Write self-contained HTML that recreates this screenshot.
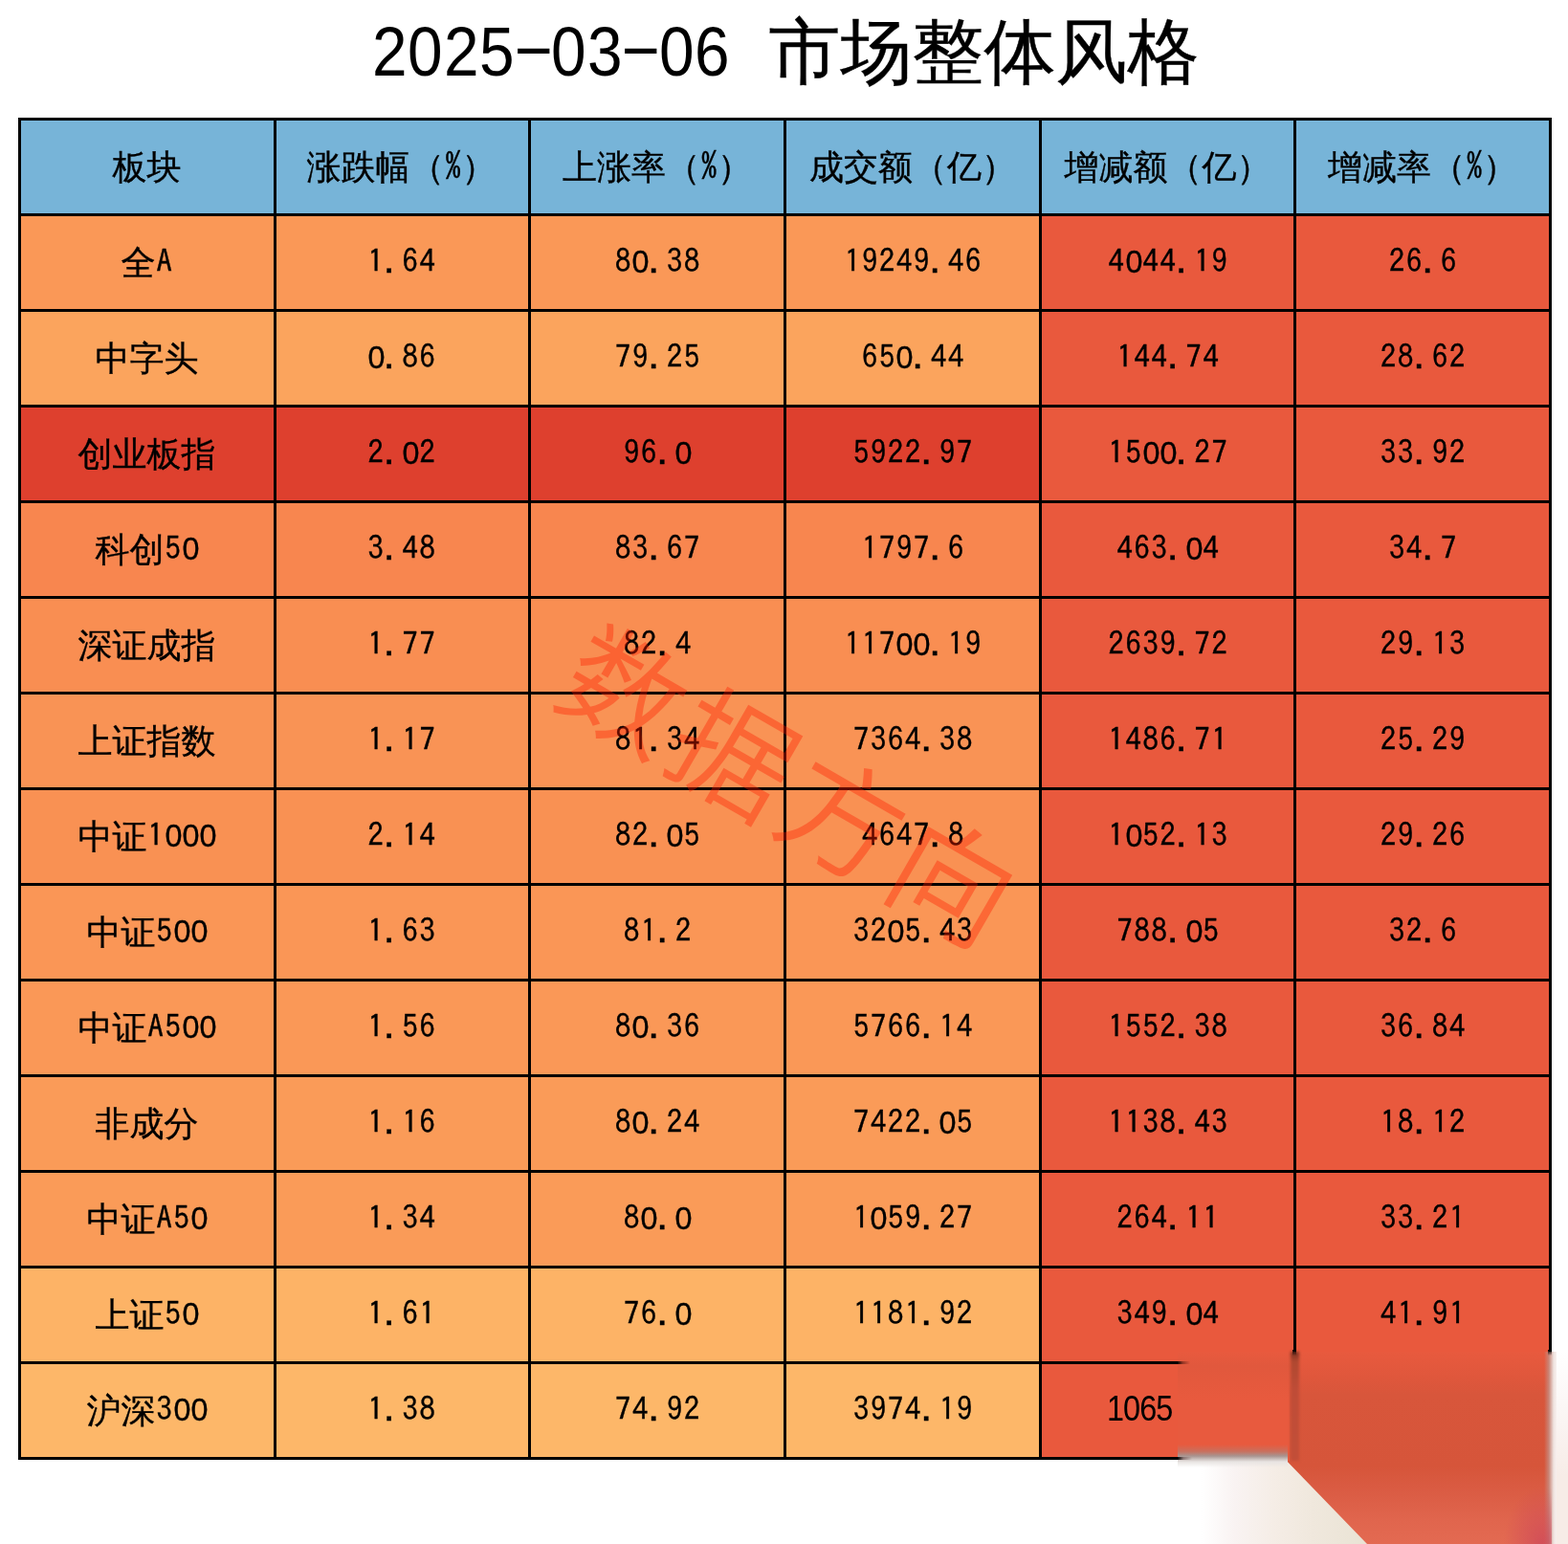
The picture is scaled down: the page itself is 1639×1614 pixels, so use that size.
<!DOCTYPE html>
<html lang="zh-CN"><head><meta charset="utf-8"><title>2025-03-06 市场整体风格</title>
<style>
html,body{margin:0;padding:0;background:#fff;}
body{width:1639px;height:1614px;overflow:hidden;position:relative;color:#000;}
.k{font-family:"WenQuanYi Zen Hei","Noto Sans CJK SC",sans-serif;}
b{font-weight:normal;display:inline-block;text-align:center;font-family:"IPAGothic","Liberation Sans",sans-serif;}
.title{position:absolute;top:3px;height:100px;line-height:100px;white-space:nowrap;font-size:75px;}
.title b{width:37.5px;font-family:"Liberation Sans",Arial,sans-serif;font-size:73px;vertical-align:top;position:relative;top:0.5px;transform:scaleX(0.9);}
.title b.h{transform:translateX(2px) scale(1.87,0.94);top:-5.5px;}
.title .k{position:relative;top:2px;margin-left:4.5px;-webkit-text-stroke:0.4px #000;}
.bg{position:absolute;height:103px;}
.t{position:absolute;height:100px;line-height:100px;white-space:nowrap;font-size:36px;}
.t .k{position:relative;top:1.5px;}
.t b{width:18px;font-size:32.5px;vertical-align:top;position:relative;top:0px;}
.t b.p{text-align:left;text-indent:0px;}
.t b.q{font-family:"IPAGothic","Liberation Mono",monospace;font-size:32.5px;top:0px;}
.t b.z{font-family:"Liberation Sans",Arial,sans-serif;font-size:34px;transform:scaleX(0.95);top:0px;}
.t{-webkit-text-stroke:0.35px #000;}
.t .r{display:inline-block;transform-origin:0 50%;transform:scaleX(0.9);font-family:"Liberation Sans",Arial,sans-serif;font-size:36px;letter-spacing:-1px;position:relative;top:0px;-webkit-text-stroke:0;}
.g{position:absolute;background:#000;}
.wm{position:absolute;left:828px;top:815px;width:0;height:0;}
.wm div{position:absolute;left:-400px;top:-100px;width:800px;height:200px;line-height:200px;text-align:center;white-space:nowrap;
 font-family:"Noto Sans CJK SC","WenQuanYi Zen Hei",sans-serif;font-weight:350;font-size:126px;letter-spacing:6px;text-indent:6px;
 color:rgba(255,30,0,0.38);transform:rotate(30deg);}
</style></head><body>
<div class="title" style="left:386.5px"><b>2</b><b>0</b><b>2</b><b>5</b><b class="h">-</b><b>0</b><b>3</b><b class="h">-</b><b>0</b><b>6</b><b>&nbsp;</b><span class="k">市场整体风格</span></div>
<div class="bg" style="left:19px;top:123px;width:270px;background:#77B4D8"></div>
<div class="bg" style="left:286px;top:123px;width:269px;background:#77B4D8"></div>
<div class="bg" style="left:552px;top:123px;width:270px;background:#77B4D8"></div>
<div class="bg" style="left:819px;top:123px;width:270px;background:#77B4D8"></div>
<div class="bg" style="left:1086px;top:123px;width:269px;background:#77B4D8"></div>
<div class="bg" style="left:1352px;top:123px;width:270px;background:#77B4D8"></div>
<div class="bg" style="left:19px;top:223px;width:270px;background:#FA9857"></div>
<div class="bg" style="left:286px;top:223px;width:269px;background:#FA9857"></div>
<div class="bg" style="left:552px;top:223px;width:270px;background:#FA9857"></div>
<div class="bg" style="left:819px;top:223px;width:270px;background:#FA9857"></div>
<div class="bg" style="left:1086px;top:223px;width:269px;background:#E9593D"></div>
<div class="bg" style="left:1352px;top:223px;width:270px;background:#E9593D"></div>
<div class="bg" style="left:19px;top:323px;width:270px;background:#FBA45D"></div>
<div class="bg" style="left:286px;top:323px;width:269px;background:#FBA45D"></div>
<div class="bg" style="left:552px;top:323px;width:270px;background:#FBA45D"></div>
<div class="bg" style="left:819px;top:323px;width:270px;background:#FBA45D"></div>
<div class="bg" style="left:1086px;top:323px;width:269px;background:#E9593D"></div>
<div class="bg" style="left:1352px;top:323px;width:270px;background:#E9593D"></div>
<div class="bg" style="left:19px;top:423px;width:270px;background:#DE402E"></div>
<div class="bg" style="left:286px;top:423px;width:269px;background:#DE402E"></div>
<div class="bg" style="left:552px;top:423px;width:270px;background:#DE402E"></div>
<div class="bg" style="left:819px;top:423px;width:270px;background:#DE402E"></div>
<div class="bg" style="left:1086px;top:423px;width:269px;background:#E9593D"></div>
<div class="bg" style="left:1352px;top:423px;width:270px;background:#E9593D"></div>
<div class="bg" style="left:19px;top:523px;width:270px;background:#F8864F"></div>
<div class="bg" style="left:286px;top:523px;width:269px;background:#F8864F"></div>
<div class="bg" style="left:552px;top:523px;width:270px;background:#F8864F"></div>
<div class="bg" style="left:819px;top:523px;width:270px;background:#F8864F"></div>
<div class="bg" style="left:1086px;top:523px;width:269px;background:#E9593D"></div>
<div class="bg" style="left:1352px;top:523px;width:270px;background:#E9593D"></div>
<div class="bg" style="left:19px;top:623px;width:270px;background:#F98E52"></div>
<div class="bg" style="left:286px;top:623px;width:269px;background:#F98E52"></div>
<div class="bg" style="left:552px;top:623px;width:270px;background:#F98E52"></div>
<div class="bg" style="left:819px;top:623px;width:270px;background:#F98E52"></div>
<div class="bg" style="left:1086px;top:623px;width:269px;background:#E9593D"></div>
<div class="bg" style="left:1352px;top:623px;width:270px;background:#E9593D"></div>
<div class="bg" style="left:19px;top:723px;width:270px;background:#F99355"></div>
<div class="bg" style="left:286px;top:723px;width:269px;background:#F99355"></div>
<div class="bg" style="left:552px;top:723px;width:270px;background:#F99355"></div>
<div class="bg" style="left:819px;top:723px;width:270px;background:#F99355"></div>
<div class="bg" style="left:1086px;top:723px;width:269px;background:#E9593D"></div>
<div class="bg" style="left:1352px;top:723px;width:270px;background:#E9593D"></div>
<div class="bg" style="left:19px;top:823px;width:270px;background:#F99153"></div>
<div class="bg" style="left:286px;top:823px;width:269px;background:#F99153"></div>
<div class="bg" style="left:552px;top:823px;width:270px;background:#F99153"></div>
<div class="bg" style="left:819px;top:823px;width:270px;background:#F99153"></div>
<div class="bg" style="left:1086px;top:823px;width:269px;background:#E9593D"></div>
<div class="bg" style="left:1352px;top:823px;width:270px;background:#E9593D"></div>
<div class="bg" style="left:19px;top:923px;width:270px;background:#FA9656"></div>
<div class="bg" style="left:286px;top:923px;width:269px;background:#FA9656"></div>
<div class="bg" style="left:552px;top:923px;width:270px;background:#FA9656"></div>
<div class="bg" style="left:819px;top:923px;width:270px;background:#FA9656"></div>
<div class="bg" style="left:1086px;top:923px;width:269px;background:#E9593D"></div>
<div class="bg" style="left:1352px;top:923px;width:270px;background:#E9593D"></div>
<div class="bg" style="left:19px;top:1023px;width:270px;background:#FA9857"></div>
<div class="bg" style="left:286px;top:1023px;width:269px;background:#FA9857"></div>
<div class="bg" style="left:552px;top:1023px;width:270px;background:#FA9857"></div>
<div class="bg" style="left:819px;top:1023px;width:270px;background:#FA9857"></div>
<div class="bg" style="left:1086px;top:1023px;width:269px;background:#E9593D"></div>
<div class="bg" style="left:1352px;top:1023px;width:270px;background:#E9593D"></div>
<div class="bg" style="left:19px;top:1123px;width:270px;background:#FA9B58"></div>
<div class="bg" style="left:286px;top:1123px;width:269px;background:#FA9B58"></div>
<div class="bg" style="left:552px;top:1123px;width:270px;background:#FA9B58"></div>
<div class="bg" style="left:819px;top:1123px;width:270px;background:#FA9B58"></div>
<div class="bg" style="left:1086px;top:1123px;width:269px;background:#E9593D"></div>
<div class="bg" style="left:1352px;top:1123px;width:270px;background:#E9593D"></div>
<div class="bg" style="left:19px;top:1223px;width:270px;background:#FA9B58"></div>
<div class="bg" style="left:286px;top:1223px;width:269px;background:#FA9B58"></div>
<div class="bg" style="left:552px;top:1223px;width:270px;background:#FA9B58"></div>
<div class="bg" style="left:819px;top:1223px;width:270px;background:#FA9B58"></div>
<div class="bg" style="left:1086px;top:1223px;width:269px;background:#E9593D"></div>
<div class="bg" style="left:1352px;top:1223px;width:270px;background:#E9593D"></div>
<div class="bg" style="left:19px;top:1323px;width:270px;background:#FDB366"></div>
<div class="bg" style="left:286px;top:1323px;width:269px;background:#FDB366"></div>
<div class="bg" style="left:552px;top:1323px;width:270px;background:#FDB366"></div>
<div class="bg" style="left:819px;top:1323px;width:270px;background:#FDB366"></div>
<div class="bg" style="left:1086px;top:1323px;width:269px;background:#E9593D"></div>
<div class="bg" style="left:1352px;top:1323px;width:270px;background:#E9593D"></div>
<div class="bg" style="left:19px;top:1423px;width:270px;background:#FDB769"></div>
<div class="bg" style="left:286px;top:1423px;width:269px;background:#FDB769"></div>
<div class="bg" style="left:552px;top:1423px;width:270px;background:#FDB769"></div>
<div class="bg" style="left:819px;top:1423px;width:270px;background:#FDB769"></div>
<div class="bg" style="left:1086px;top:1423px;width:269px;background:#E9593D"></div>
<div class="bg" style="left:1352px;top:1423px;width:270px;background:#E9593D"></div>
<div class="t" style="left:117.5px;top:123px"><span class="k">板块</span></div>
<div class="t" style="left:320.5px;top:123px"><span class="k">涨跌幅（</span><b class="q">%</b><span class="k">）</span></div>
<div class="t" style="left:588.0px;top:123px"><span class="k">上涨率（</span><b class="q">%</b><span class="k">）</span></div>
<div class="t" style="left:846.0px;top:123px"><span class="k">成交额（亿）</span></div>
<div class="t" style="left:1112.5px;top:123px"><span class="k">增减额（亿）</span></div>
<div class="t" style="left:1388.0px;top:123px"><span class="k">增减率（</span><b class="q">%</b><span class="k">）</span></div>
<div class="t" style="left:126.5px;top:223px"><span class="k">全</span><b>A</b></div>
<div class="t" style="left:383.5px;top:223px"><b>1</b><b class="p">.</b><b>6</b><b>4</b></div>
<div class="t" style="left:642.0px;top:223px"><b>8</b><b class="z">0</b><b class="p">.</b><b>3</b><b>8</b></div>
<div class="t" style="left:882.0px;top:223px"><b>1</b><b>9</b><b>2</b><b>4</b><b>9</b><b class="p">.</b><b>4</b><b>6</b></div>
<div class="t" style="left:1157.5px;top:223px"><b>4</b><b class="z">0</b><b>4</b><b>4</b><b class="p">.</b><b>1</b><b>9</b></div>
<div class="t" style="left:1451.0px;top:223px"><b>2</b><b>6</b><b class="p">.</b><b>6</b></div>
<div class="t" style="left:99.5px;top:323px"><span class="k">中字头</span></div>
<div class="t" style="left:383.5px;top:323px"><b class="z">0</b><b class="p">.</b><b>8</b><b>6</b></div>
<div class="t" style="left:642.0px;top:323px"><b>7</b><b>9</b><b class="p">.</b><b>2</b><b>5</b></div>
<div class="t" style="left:900.0px;top:323px"><b>6</b><b>5</b><b class="z">0</b><b class="p">.</b><b>4</b><b>4</b></div>
<div class="t" style="left:1166.5px;top:323px"><b>1</b><b>4</b><b>4</b><b class="p">.</b><b>7</b><b>4</b></div>
<div class="t" style="left:1442.0px;top:323px"><b>2</b><b>8</b><b class="p">.</b><b>6</b><b>2</b></div>
<div class="t" style="left:81.5px;top:423px"><span class="k">创业板指</span></div>
<div class="t" style="left:383.5px;top:423px"><b>2</b><b class="p">.</b><b class="z">0</b><b>2</b></div>
<div class="t" style="left:651.0px;top:423px"><b>9</b><b>6</b><b class="p">.</b><b class="z">0</b></div>
<div class="t" style="left:891.0px;top:423px"><b>5</b><b>9</b><b>2</b><b>2</b><b class="p">.</b><b>9</b><b>7</b></div>
<div class="t" style="left:1157.5px;top:423px"><b>1</b><b>5</b><b class="z">0</b><b class="z">0</b><b class="p">.</b><b>2</b><b>7</b></div>
<div class="t" style="left:1442.0px;top:423px"><b>3</b><b>3</b><b class="p">.</b><b>9</b><b>2</b></div>
<div class="t" style="left:99.5px;top:523px"><span class="k">科创</span><b>5</b><b class="z">0</b></div>
<div class="t" style="left:383.5px;top:523px"><b>3</b><b class="p">.</b><b>4</b><b>8</b></div>
<div class="t" style="left:642.0px;top:523px"><b>8</b><b>3</b><b class="p">.</b><b>6</b><b>7</b></div>
<div class="t" style="left:900.0px;top:523px"><b>1</b><b>7</b><b>9</b><b>7</b><b class="p">.</b><b>6</b></div>
<div class="t" style="left:1166.5px;top:523px"><b>4</b><b>6</b><b>3</b><b class="p">.</b><b class="z">0</b><b>4</b></div>
<div class="t" style="left:1451.0px;top:523px"><b>3</b><b>4</b><b class="p">.</b><b>7</b></div>
<div class="t" style="left:81.5px;top:623px"><span class="k">深证成指</span></div>
<div class="t" style="left:383.5px;top:623px"><b>1</b><b class="p">.</b><b>7</b><b>7</b></div>
<div class="t" style="left:651.0px;top:623px"><b>8</b><b>2</b><b class="p">.</b><b>4</b></div>
<div class="t" style="left:882.0px;top:623px"><b>1</b><b>1</b><b>7</b><b class="z">0</b><b class="z">0</b><b class="p">.</b><b>1</b><b>9</b></div>
<div class="t" style="left:1157.5px;top:623px"><b>2</b><b>6</b><b>3</b><b>9</b><b class="p">.</b><b>7</b><b>2</b></div>
<div class="t" style="left:1442.0px;top:623px"><b>2</b><b>9</b><b class="p">.</b><b>1</b><b>3</b></div>
<div class="t" style="left:81.5px;top:723px"><span class="k">上证指数</span></div>
<div class="t" style="left:383.5px;top:723px"><b>1</b><b class="p">.</b><b>1</b><b>7</b></div>
<div class="t" style="left:642.0px;top:723px"><b>8</b><b>1</b><b class="p">.</b><b>3</b><b>4</b></div>
<div class="t" style="left:891.0px;top:723px"><b>7</b><b>3</b><b>6</b><b>4</b><b class="p">.</b><b>3</b><b>8</b></div>
<div class="t" style="left:1157.5px;top:723px"><b>1</b><b>4</b><b>8</b><b>6</b><b class="p">.</b><b>7</b><b>1</b></div>
<div class="t" style="left:1442.0px;top:723px"><b>2</b><b>5</b><b class="p">.</b><b>2</b><b>9</b></div>
<div class="t" style="left:81.5px;top:823px"><span class="k">中证</span><b>1</b><b class="z">0</b><b class="z">0</b><b class="z">0</b></div>
<div class="t" style="left:383.5px;top:823px"><b>2</b><b class="p">.</b><b>1</b><b>4</b></div>
<div class="t" style="left:642.0px;top:823px"><b>8</b><b>2</b><b class="p">.</b><b class="z">0</b><b>5</b></div>
<div class="t" style="left:900.0px;top:823px"><b>4</b><b>6</b><b>4</b><b>7</b><b class="p">.</b><b>8</b></div>
<div class="t" style="left:1157.5px;top:823px"><b>1</b><b class="z">0</b><b>5</b><b>2</b><b class="p">.</b><b>1</b><b>3</b></div>
<div class="t" style="left:1442.0px;top:823px"><b>2</b><b>9</b><b class="p">.</b><b>2</b><b>6</b></div>
<div class="t" style="left:90.5px;top:923px"><span class="k">中证</span><b>5</b><b class="z">0</b><b class="z">0</b></div>
<div class="t" style="left:383.5px;top:923px"><b>1</b><b class="p">.</b><b>6</b><b>3</b></div>
<div class="t" style="left:651.0px;top:923px"><b>8</b><b>1</b><b class="p">.</b><b>2</b></div>
<div class="t" style="left:891.0px;top:923px"><b>3</b><b>2</b><b class="z">0</b><b>5</b><b class="p">.</b><b>4</b><b>3</b></div>
<div class="t" style="left:1166.5px;top:923px"><b>7</b><b>8</b><b>8</b><b class="p">.</b><b class="z">0</b><b>5</b></div>
<div class="t" style="left:1451.0px;top:923px"><b>3</b><b>2</b><b class="p">.</b><b>6</b></div>
<div class="t" style="left:81.5px;top:1023px"><span class="k">中证</span><b>A</b><b>5</b><b class="z">0</b><b class="z">0</b></div>
<div class="t" style="left:383.5px;top:1023px"><b>1</b><b class="p">.</b><b>5</b><b>6</b></div>
<div class="t" style="left:642.0px;top:1023px"><b>8</b><b class="z">0</b><b class="p">.</b><b>3</b><b>6</b></div>
<div class="t" style="left:891.0px;top:1023px"><b>5</b><b>7</b><b>6</b><b>6</b><b class="p">.</b><b>1</b><b>4</b></div>
<div class="t" style="left:1157.5px;top:1023px"><b>1</b><b>5</b><b>5</b><b>2</b><b class="p">.</b><b>3</b><b>8</b></div>
<div class="t" style="left:1442.0px;top:1023px"><b>3</b><b>6</b><b class="p">.</b><b>8</b><b>4</b></div>
<div class="t" style="left:99.5px;top:1123px"><span class="k">非成分</span></div>
<div class="t" style="left:383.5px;top:1123px"><b>1</b><b class="p">.</b><b>1</b><b>6</b></div>
<div class="t" style="left:642.0px;top:1123px"><b>8</b><b class="z">0</b><b class="p">.</b><b>2</b><b>4</b></div>
<div class="t" style="left:891.0px;top:1123px"><b>7</b><b>4</b><b>2</b><b>2</b><b class="p">.</b><b class="z">0</b><b>5</b></div>
<div class="t" style="left:1157.5px;top:1123px"><b>1</b><b>1</b><b>3</b><b>8</b><b class="p">.</b><b>4</b><b>3</b></div>
<div class="t" style="left:1442.0px;top:1123px"><b>1</b><b>8</b><b class="p">.</b><b>1</b><b>2</b></div>
<div class="t" style="left:90.5px;top:1223px"><span class="k">中证</span><b>A</b><b>5</b><b class="z">0</b></div>
<div class="t" style="left:383.5px;top:1223px"><b>1</b><b class="p">.</b><b>3</b><b>4</b></div>
<div class="t" style="left:651.0px;top:1223px"><b>8</b><b class="z">0</b><b class="p">.</b><b class="z">0</b></div>
<div class="t" style="left:891.0px;top:1223px"><b>1</b><b class="z">0</b><b>5</b><b>9</b><b class="p">.</b><b>2</b><b>7</b></div>
<div class="t" style="left:1166.5px;top:1223px"><b>2</b><b>6</b><b>4</b><b class="p">.</b><b>1</b><b>1</b></div>
<div class="t" style="left:1442.0px;top:1223px"><b>3</b><b>3</b><b class="p">.</b><b>2</b><b>1</b></div>
<div class="t" style="left:99.5px;top:1323px"><span class="k">上证</span><b>5</b><b class="z">0</b></div>
<div class="t" style="left:383.5px;top:1323px"><b>1</b><b class="p">.</b><b>6</b><b>1</b></div>
<div class="t" style="left:651.0px;top:1323px"><b>7</b><b>6</b><b class="p">.</b><b class="z">0</b></div>
<div class="t" style="left:891.0px;top:1323px"><b>1</b><b>1</b><b>8</b><b>1</b><b class="p">.</b><b>9</b><b>2</b></div>
<div class="t" style="left:1166.5px;top:1323px"><b>3</b><b>4</b><b>9</b><b class="p">.</b><b class="z">0</b><b>4</b></div>
<div class="t" style="left:1442.0px;top:1323px"><b>4</b><b>1</b><b class="p">.</b><b>9</b><b>1</b></div>
<div class="t" style="left:90.5px;top:1423px"><span class="k">沪深</span><b>3</b><b class="z">0</b><b class="z">0</b></div>
<div class="t" style="left:383.5px;top:1423px"><b>1</b><b class="p">.</b><b>3</b><b>8</b></div>
<div class="t" style="left:642.0px;top:1423px"><b>7</b><b>4</b><b class="p">.</b><b>9</b><b>2</b></div>
<div class="t" style="left:891.0px;top:1423px"><b>3</b><b>9</b><b>7</b><b>4</b><b class="p">.</b><b>1</b><b>9</b></div>
<div class="t" style="left:1157px;top:1423px"><span class="r">1065</span></div>
<div class="g" style="left:19px;top:123px;width:1603px;height:3px"></div>
<div class="g" style="left:19px;top:223px;width:1603px;height:3px"></div>
<div class="g" style="left:19px;top:323px;width:1603px;height:3px"></div>
<div class="g" style="left:19px;top:423px;width:1603px;height:3px"></div>
<div class="g" style="left:19px;top:523px;width:1603px;height:3px"></div>
<div class="g" style="left:19px;top:623px;width:1603px;height:3px"></div>
<div class="g" style="left:19px;top:723px;width:1603px;height:3px"></div>
<div class="g" style="left:19px;top:823px;width:1603px;height:3px"></div>
<div class="g" style="left:19px;top:923px;width:1603px;height:3px"></div>
<div class="g" style="left:19px;top:1023px;width:1603px;height:3px"></div>
<div class="g" style="left:19px;top:1123px;width:1603px;height:3px"></div>
<div class="g" style="left:19px;top:1223px;width:1603px;height:3px"></div>
<div class="g" style="left:19px;top:1323px;width:1603px;height:3px"></div>
<div class="g" style="left:19px;top:1423px;width:1603px;height:3px"></div>
<div class="g" style="left:19px;top:1523px;width:1603px;height:3px"></div>
<div class="g" style="left:19px;top:123px;width:3px;height:1403px"></div>
<div class="g" style="left:286px;top:123px;width:3px;height:1403px"></div>
<div class="g" style="left:552px;top:123px;width:3px;height:1403px"></div>
<div class="g" style="left:819px;top:123px;width:3px;height:1403px"></div>
<div class="g" style="left:1086px;top:123px;width:3px;height:1403px"></div>
<div class="g" style="left:1352px;top:123px;width:3px;height:1403px"></div>
<div class="g" style="left:1619px;top:123px;width:3px;height:1403px"></div>
<div style="position:absolute;left:1231px;top:1527px;width:210px;height:87px;clip-path:polygon(0 0,117px 0,204px 87px,0 87px);background:linear-gradient(90deg,#FFFFFF 0px,#FFFFFF 25px,#F9F3F2 60px,#F5EDE6 100px,#F0E8DD 140px,#E9E3D4 200px);"></div>
<div style="position:absolute;left:1231px;top:1413px;width:390px;height:201px;clip-path:polygon(0 0,390px 0,390px 201px,198px 201px,109px 109px,0 109px);background:linear-gradient(180deg,#E85A3E 0px,#E0573C 25px,#D8563B 45px,#D6553A 120px,#DB5D45 150px,#E0654D 175px,#E36A52 201px);"></div>
<div style="position:absolute;left:1231px;top:1413px;width:117px;height:114px;background:linear-gradient(180deg,#E85A3E 0px,#E1583D 15px,#E4593D 30px,#E85A3E 50px,#E85A3E 100%);"></div>
<div style="position:absolute;left:1228px;top:1423px;width:16px;height:3px;background:linear-gradient(90deg,#000 0%,#000 15%,rgba(90,30,20,0.6) 50%,rgba(232,90,62,0) 100%);filter:blur(0.6px);"></div>
<div style="position:absolute;left:1231px;top:1510px;width:115px;height:24px;background:linear-gradient(180deg,rgba(232,90,62,0) 0%,#C9705E 30%,#A89490 50%,#E8E4E2 75%,rgba(255,255,255,0) 100%);"></div>
<div style="position:absolute;left:1228px;top:1523px;width:18px;height:3px;background:linear-gradient(90deg,#000 0%,#000 15%,rgba(90,60,60,0.5) 50%,rgba(255,255,255,0) 100%);filter:blur(0.6px);"></div>
<div style="position:absolute;left:1349px;top:1413px;width:9px;height:114px;background:linear-gradient(180deg,#7A3020 0px,#B04830 10px,#BF4C37 40px,#C24E38 100%);filter:blur(1.6px);"></div>
<div style="position:absolute;left:1351px;top:1411px;width:4px;height:6px;background:linear-gradient(180deg,#000,rgba(0,0,0,0));"></div>
<div style="position:absolute;left:1614px;top:1413px;width:25px;height:201px;background:linear-gradient(90deg,rgba(214,85,58,0) 0px,#C88577 5px,#EFE3DF 10px,#F8F0EE 13px,#F8F0EE 25px);"></div>
<div style="position:absolute;left:1627px;top:1413px;width:12px;height:201px;background:linear-gradient(180deg,#FFFFFF 0px,#FBF6F5 60px,#F7ECE7 130px,#F7ECE7 201px);"></div>
<div style="position:absolute;left:1618px;top:1411px;width:4px;height:6px;background:linear-gradient(180deg,#000,rgba(0,0,0,0));"></div>
<div style="position:absolute;left:1560px;top:1540px;width:62px;height:74px;background:radial-gradient(ellipse 40px 60px at 52px 74px,rgba(205,70,90,0.75),rgba(205,70,90,0) 100%);"></div>
<div class="wm"><div>数据方向</div></div>
</body></html>
